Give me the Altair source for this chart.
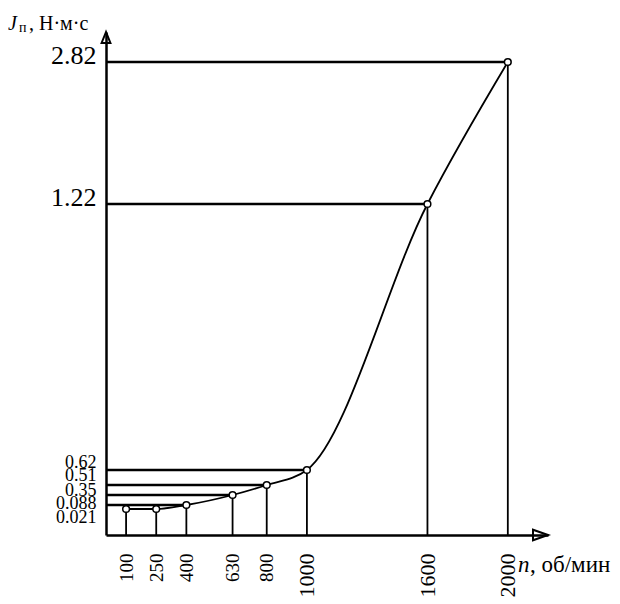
import altair as alt
import pandas as pd

# ---- data -------------------------------------------------------------------
n_values = [100, 250, 400, 630, 800, 1000, 1600, 2000]          # n, об/мин
j_values = [0.021, 0.021, 0.088, 0.35, 0.51, 0.62, 1.22, 2.82]  # Jп, Н·м·с
level_line = [False, False, True, True, True, True, True, True]  # horizontal guide drawn
x_tick_values = [100, 250, 400, 630, 800, 1000, 1600, 2000]
y_tick_values = [0.021, 0.088, 0.35, 0.51, 0.62, 1.22, 2.82]

# the hand-drawn value axis is not uniform: piecewise mapping value -> pixel
y_scale_domain = [0, 0.021, 0.088, 0.35, 0.51, 0.62, 1.22, 2.82, 3.0]
y_scale_range = [503, 477, 473, 463, 453, 438, 172, 30, 0]
x_max = 2200
y_max = 3.0

FONT = "Liberation Serif"
W, H = 442, 503

df = pd.DataFrame({"n": n_values, "J": j_values, "hline": level_line})

x_scale = alt.Scale(domain=[0, x_max], nice=False, zero=True)
y_scale = alt.Scale(type="linear", domain=y_scale_domain, range=y_scale_range,
                    nice=False, zero=False)

x_axis = alt.Axis(
    values=x_tick_values, title=None, grid=False, ticks=False, format="d",
    domainColor="black", domainWidth=2.5,
    labelAngle=270, labelAlign="right", labelBaseline="middle", labelPadding=18,
    labelFont=FONT, labelColor="black", labelOverlap=False, labelFlush=False,
    labelFontSize={"condition": {"test": "datum.value >= 1000", "value": 22}, "value": 19},
)
y_axis = alt.Axis(
    values=y_tick_values, title=None, grid=False, ticks=False, format=".3~f",
    domainColor="black", domainWidth=2.5,
    labelAlign="right", labelPadding=10,
    labelFont=FONT, labelColor="black", labelOverlap=False, labelFlush=False,
    labelFontSize={"condition": {"test": "datum.value > 1", "value": 26}, "value": 18},
    labelBaseline={"condition": {"test": "datum.value > 1", "value": "alphabetic"}, "value": "middle"},
    labelOffset={"condition": [
        {"test": "datum.value == 0.021", "value": 8},
        {"test": "datum.value == 0.088", "value": -2},
        {"test": "datum.value == 0.35", "value": -5},
        {"test": "datum.value == 0.51", "value": -10},
        {"test": "datum.value == 0.62", "value": -8},
    ], "value": 1},
)

X = alt.X("n:Q", scale=x_scale, axis=x_axis)
Y = alt.Y("J:Q", scale=y_scale, axis=y_axis)

base = alt.Chart(df)

vlines = base.transform_calculate(y0="0").mark_rule(color="black", strokeWidth=1.8).encode(
    x=X, y=Y, y2=alt.Y2("y0:Q"))

hlines = base.transform_filter("datum.hline").transform_calculate(x0="0").mark_rule(
    color="black", strokeWidth=2.5).encode(
    x=alt.X("x0:Q", scale=x_scale, axis=x_axis), x2=alt.X2("n:Q"), y=Y)

curve = base.mark_line(color="black", strokeWidth=1.8, interpolate="monotone").encode(x=X, y=Y)

points = base.mark_point(shape="circle", filled=True, fill="white", stroke="black",
                         strokeWidth=1.5, size=45, opacity=1).encode(x=X, y=Y)

arrow_up = alt.Chart(pd.DataFrame({"n": [0], "J": [y_max]})).mark_point(
    shape="M0,0L-0.4,1L0.4,1Z", filled=False, stroke="black", strokeWidth=2,
    size=484, opacity=1).encode(x=X, y=Y)
arrow_right = alt.Chart(pd.DataFrame({"n": [x_max], "J": [0]})).mark_point(
    shape="M0,0L-1,-0.35L-1,0.35Z", filled=False, stroke="black", strokeWidth=2,
    size=900, opacity=1).encode(x=X, y=Y)

one = pd.DataFrame({"k": [0]})
def label(txt, x, y, size, style="normal", align="left"):
    return alt.Chart(one).mark_text(
        text=txt, font=FONT, fontSize=size, fontStyle=style, color="black",
        align=align, baseline="alphabetic").encode(x=alt.value(x), y=alt.value(y))

titles = [
    label("J", -98, -2, 20, "italic"),
    label("п", -87, 0, 14),
    label(", Н·м·с", -77, -2, 20),
    label("n", 412, 540, 23, "italic"),
    label(", об/мин", 424, 540, 23),
]

chart = alt.layer(hlines, vlines, curve, points, arrow_up, arrow_right, *titles).properties(
    width=W, height=H,
    background="white",
    autosize=alt.AutoSizeParams(type="none"),
    padding={"left": 98, "top": 24, "right": 64, "bottom": 69},
).configure_view(stroke=None)

chart.save("out.html", embed_options={"renderer": "svg", "actions": False})
